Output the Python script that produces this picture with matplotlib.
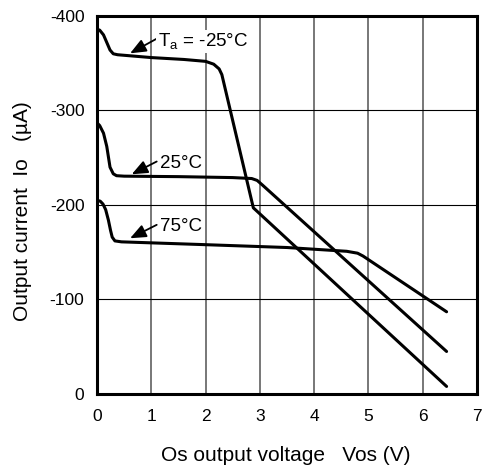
import matplotlib
matplotlib.use("Agg")
import matplotlib.pyplot as plt

plt.rcParams['font.family'] = ['Liberation Sans', 'DejaVu Sans']
plt.rcParams['mathtext.fontset'] = 'custom'
plt.rcParams['mathtext.rm'] = 'Liberation Sans'

# Ta = -25 C
v_m25 = [0, 0.05, 0.12, 0.18, 0.24, 0.3, 0.38, 1.0, 1.6, 2.0, 2.15, 2.25, 2.3, 2.88, 6.44]
i_m25 = [-386, -385, -380, -372, -364, -360, -359, -356, -354, -352, -349, -344, -338, -197, -8]
# Ta = 25 C
v_25 = [0, 0.05, 0.12, 0.18, 0.24, 0.3, 0.36, 0.5, 1.5, 2.5, 2.85, 2.95, 3.05, 6.44]
i_25 = [-287, -284, -276, -262, -240, -233, -231, -230.5, -230, -229, -228, -226, -221, -45]
# Ta = 75 C
v_75 = [0, 0.06, 0.11, 0.16, 0.21, 0.25, 0.28, 0.33, 0.45, 2.0, 3.5, 4.6, 4.8, 4.9, 6.44]
i_75 = [-205, -204, -201, -195, -184, -173, -166, -162, -161, -158, -155, -151, -149, -146, -87]

x_ticks = [0, 1, 2, 3, 4, 5, 6, 7]
y_ticks = [0, -100, -200, -300, -400]

fig = plt.figure(figsize=(4.84, 4.76), dpi=100)
ax = fig.add_axes([0.2004, 0.1723, 0.7851, 0.7941])

ax.set_xlim(0, 7)
ax.set_ylim(0, -400)
ax.set_xticks(x_ticks)
ax.set_yticks(y_ticks)
ax.set_yticklabels([str(t) for t in y_ticks])
ax.tick_params(length=0, labelsize=12.5)
ax.tick_params(axis='x', pad=11)
ax.tick_params(axis='y', pad=9)

for x in x_ticks[1:-1]:
    ax.axvline(x, color='#777777', lw=1.4, zorder=1)
for y in y_ticks[1:-1]:
    ax.axhline(y, color='black', lw=0.8, zorder=1)

for s in ax.spines.values():
    s.set_linewidth(2.2)

for v, i in [(v_m25, i_m25), (v_25, i_25), (v_75, i_75)]:
    ax.plot(v, i, color='black', lw=2.2, solid_joinstyle='round', solid_capstyle='round', zorder=3)

ann = dict(arrowstyle='-|>,head_length=0.6,head_width=0.25', color='black', lw=1.3,
           mutation_scale=16, shrinkA=0, shrinkB=0)
bb = dict(facecolor='white', edgecolor='none', pad=1)
ax.annotate('', xy=(0.61, -360.5), xytext=(1.1, -376), arrowprops=ann, zorder=4)
ax.text(1.12, -373, r'T$_{\mathregular{a}}$ = -25°C', fontsize=13.5, va='center', ha='left', bbox=bb, zorder=4)
ax.annotate('', xy=(0.64, -232.5), xytext=(1.1, -246), arrowprops=ann, zorder=4)
ax.text(1.16, -244, '25°C', fontsize=13.5, va='center', ha='left', bbox=bb, zorder=4)
ax.annotate('', xy=(0.61, -164.8), xytext=(1.1, -179), arrowprops=ann, zorder=4)
ax.text(1.16, -177, '75°C', fontsize=13.5, va='center', ha='left', bbox=bb, zorder=4)

fig.text(0.046, 0.5557, 'Output current  Io   (µA)', rotation=90, fontsize=15, ha='center', va='center')
fig.text(0.59, 0.044, 'Os output voltage   Vos (V)', fontsize=15, ha='center', va='center')

fig.savefig('out.png', dpi=100)
